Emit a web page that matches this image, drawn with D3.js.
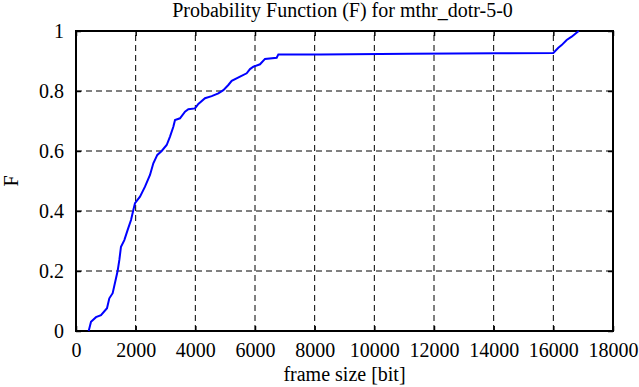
<!DOCTYPE html>
<meta charset="utf-8">
<style>
  body { margin: 0; background: #fff; }
  .grid line { stroke: #000; stroke-width: 1; stroke-dasharray: 6,4; }
</style>
<body>
<svg width="639" height="387"></svg>
<script src="https://d3js.org/d3.v7.min.js"></script>
<script>
    // frame size [bit] and cumulative probability F
    var frameSize = [425, 503, 670, 838, 1039, 1117, 1229, 1341, 1397, 1453, 1508, 1620, 1732, 1844, 1922,
        1978, 2145, 2313, 2480, 2592, 2726, 2872, 3040, 3151, 3263, 3319, 3486, 3654, 3766, 3989,
        4101, 4324, 4548, 4771, 4939, 5106, 5219, 5498, 5721, 5833, 5945, 6168, 6336, 6727, 6783,
        8200, 11200, 14100, 16000, 16168, 16279, 16447, 16615, 16850];
    var probF = [0, 0.031, 0.046, 0.053, 0.076, 0.109, 0.126, 0.176, 0.201, 0.237, 0.281, 0.303, 0.337, 0.37, 0.403,
        0.426, 0.448, 0.481, 0.52, 0.559, 0.587, 0.6, 0.62, 0.648, 0.681, 0.703, 0.709, 0.731, 0.739, 0.742,
        0.757, 0.776, 0.783, 0.792, 0.803, 0.82, 0.834, 0.848, 0.859, 0.873, 0.881, 0.889, 0.907, 0.911, 0.922,
        0.922, 0.924, 0.926, 0.927, 0.944, 0.953, 0.97, 0.981, 1.0];

    var xTicks = [0, 2000, 4000, 6000, 8000, 10000, 12000, 14000, 16000, 18000];
    var yTicks = [0, 0.2, 0.4, 0.6, 0.8, 1];

    var FONT = "'Liberation Serif', 'Times New Roman', serif";

    var svg = d3.select("svg");
    var plotL = 76, plotR = 613, plotT = 31, plotB = 331;

    var x = d3.scaleLinear().domain([0, 18000]).range([plotL, plotR]);
    var y = d3.scaleLinear().domain([0, 1]).range([plotB, plotT]);

    // grid
    var grid = svg.append("g").attr("class", "grid");
    grid.selectAll("line.v")
        .data(xTicks.slice(1, -1))
        .enter().append("line")
            .attr("x1", d => x(d)).attr("x2", d => x(d))
            .attr("y1", plotB).attr("y2", plotT);
    grid.selectAll("line.h")
        .data(yTicks.slice(1, -1))
        .enter().append("line")
            .attr("x1", plotL).attr("x2", plotR)
            .attr("y1", d => y(d)).attr("y2", d => y(d));

    // axes (inner ticks, gnuplot style)
    svg.append("g")
        .attr("transform", "translate(0," + plotB + ")")
        .call(d3.axisBottom(x).tickValues(xTicks).tickSize(-5).tickPadding(12).tickFormat(d3.format("d")));
    svg.append("g")
        .attr("transform", "translate(" + plotL + ",0)")
        .call(d3.axisLeft(y).tickValues(yTicks).tickSize(-5).tickPadding(12).tickFormat(d => d));
    svg.append("g")
        .attr("transform", "translate(" + plotR + ",0)")
        .call(d3.axisRight(y).tickValues(yTicks).tickSize(-5).tickFormat(""));
    svg.append("g")
        .attr("transform", "translate(0," + plotT + ")")
        .call(d3.axisTop(x).tickValues(xTicks).tickSize(-5).tickFormat(""));

    svg.selectAll(".domain").remove();
    svg.selectAll(".tick line").attr("stroke", "#000").attr("stroke-width", 1.5);

    // frame
    svg.append("rect")
        .attr("x", plotL).attr("y", plotT)
        .attr("width", plotR - plotL).attr("height", plotB - plotT)
        .attr("fill", "none").attr("stroke", "#000").attr("stroke-width", 2);

    // curve
    var line = d3.line()
        .x((d, i) => x(frameSize[i]))
        .y(d => y(d));
    svg.append("path")
        .datum(probF)
        .attr("d", line)
        .attr("fill", "none")
        .attr("stroke", "#0000ff")
        .attr("stroke-width", 2);

    // titles
    svg.append("text")
        .attr("x", (plotL + plotR) / 2 - 2).attr("y", 17)
        .attr("text-anchor", "middle")
        .text("Probability Function (F) for mthr_dotr-5-0");
    svg.append("text")
        .attr("x", (plotL + plotR) / 2).attr("y", 381)
        .attr("text-anchor", "middle")
        .text("frame size [bit]");
    svg.append("text")
        .attr("transform", "translate(18," + ((plotT + plotB) / 2) + ") rotate(-90)")
        .attr("text-anchor", "middle")
        .text("F");

    svg.selectAll("text")
        .style("font-family", FONT)
        .style("font-size", "20px")
        .style("fill", "#000");
</script>
</body>
